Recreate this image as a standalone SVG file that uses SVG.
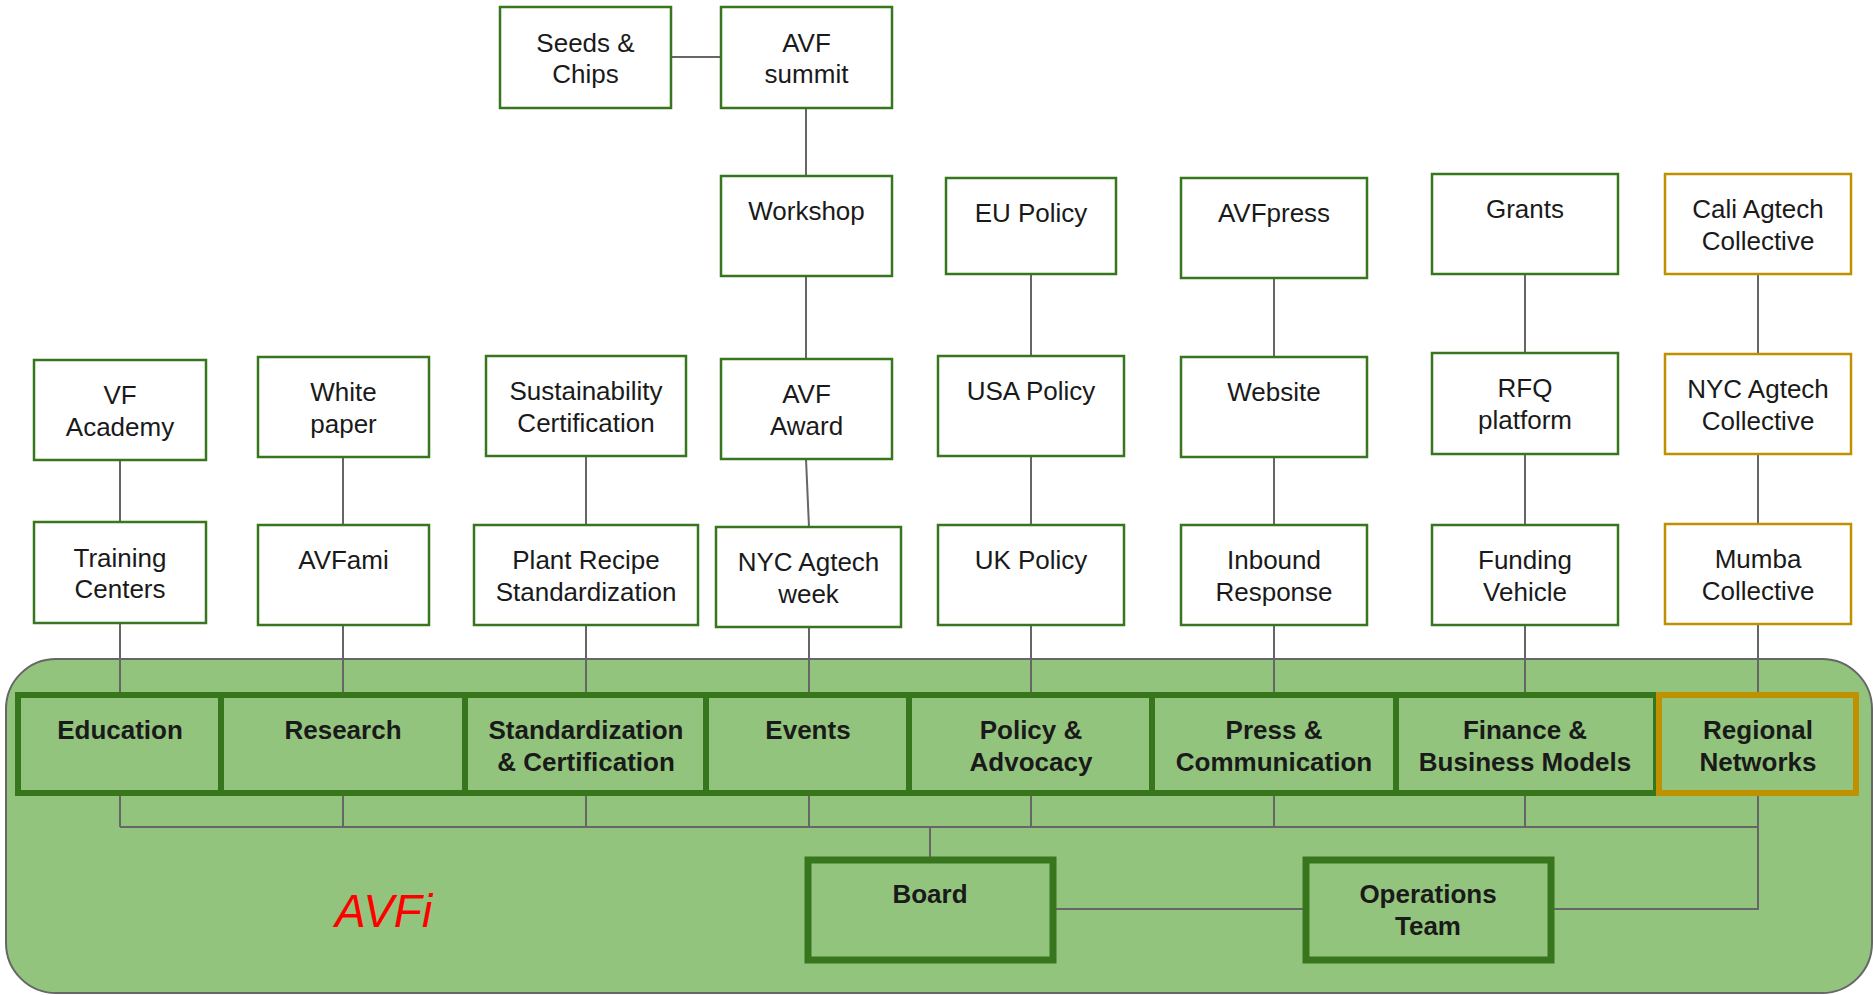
<svg xmlns="http://www.w3.org/2000/svg" width="1873" height="995" viewBox="0 0 1873 995">
<style>
.bg{fill:#ffffff}
.box{fill:#ffffff;stroke:#38761d;stroke-width:2.5}
.gold{fill:#ffffff;stroke:#bf9000;stroke-width:2.5}
.cat{fill:#93c47d;stroke:#38761d;stroke-width:6}
.catg{fill:#93c47d;stroke:#bf9000;stroke-width:6}
.big{fill:#93c47d;stroke:#38761d;stroke-width:7}
.t{font-family:"Liberation Sans",Arial,sans-serif;font-size:26px;fill:#1a1a1a;text-anchor:middle}
.b{font-family:"Liberation Sans",Arial,sans-serif;font-size:26px;font-weight:bold;fill:#1a1a1a;text-anchor:middle}
.c{fill:none;stroke:#666666;stroke-width:2}
</style>
<rect class="bg" x="0" y="0" width="1873" height="995"/>
<g id="container">
<rect x="6" y="659" width="1866" height="334" rx="50" ry="50" fill="#93c47d" stroke="#666666" stroke-width="2"/>
<text x="335" y="927" font-family="'Liberation Sans',Arial,sans-serif" font-style="italic" font-size="46" fill="#ff0000">AVFi</text>
</g>
<g id="connectors">
<line class="c" x1="671" y1="57" x2="721" y2="57"/>
<line class="c" x1="806" y1="108" x2="806" y2="176"/>
<line class="c" x1="806" y1="276" x2="806" y2="359"/>
<line class="c" x1="806" y1="459" x2="809" y2="527"/>
<line class="c" x1="809" y1="627" x2="809" y2="695"/>
<line class="c" x1="120" y1="460" x2="120" y2="522"/>
<line class="c" x1="120" y1="623" x2="120" y2="695"/>
<line class="c" x1="343" y1="457" x2="343" y2="525"/>
<line class="c" x1="343" y1="625" x2="343" y2="695"/>
<line class="c" x1="586" y1="456" x2="586" y2="525"/>
<line class="c" x1="586" y1="625" x2="586" y2="695"/>
<line class="c" x1="1031" y1="274" x2="1031" y2="356"/>
<line class="c" x1="1031" y1="456" x2="1031" y2="525"/>
<line class="c" x1="1031" y1="625" x2="1031" y2="695"/>
<line class="c" x1="1274" y1="278" x2="1274" y2="357"/>
<line class="c" x1="1274" y1="457" x2="1274" y2="525"/>
<line class="c" x1="1274" y1="625" x2="1274" y2="695"/>
<line class="c" x1="1525" y1="274" x2="1525" y2="353"/>
<line class="c" x1="1525" y1="454" x2="1525" y2="525"/>
<line class="c" x1="1525" y1="625" x2="1525" y2="695"/>
<line class="c" x1="1758" y1="274" x2="1758" y2="354"/>
<line class="c" x1="1758" y1="454" x2="1758" y2="524"/>
<line class="c" x1="1758" y1="624" x2="1758" y2="695"/>
<line class="c" x1="120" y1="793" x2="120" y2="827"/>
<line class="c" x1="343" y1="793" x2="343" y2="827"/>
<line class="c" x1="586" y1="793" x2="586" y2="827"/>
<line class="c" x1="809" y1="793" x2="809" y2="827"/>
<line class="c" x1="1031" y1="793" x2="1031" y2="827"/>
<line class="c" x1="1274" y1="793" x2="1274" y2="827"/>
<line class="c" x1="1525" y1="793" x2="1525" y2="827"/>
<polyline class="c" points="120,827 1758,827"/>
<line class="c" x1="930" y1="827" x2="930" y2="858"/>
<polyline class="c" points="1758,793 1758,909 1551,909"/>
<line class="c" x1="1053" y1="909" x2="1304" y2="909"/>
</g>
<g id="seeds-chips"><rect class="box" x="500" y="7" width="171" height="101"/><text class="t" x="585.5" y="52">Seeds &amp;</text><text class="t" x="585.5" y="83">Chips</text></g>
<g id="avf-summit"><rect class="box" x="721" y="7" width="171" height="101"/><text class="t" x="806.5" y="52">AVF</text><text class="t" x="806.5" y="83">summit</text></g>
<g id="workshop"><rect class="box" x="721" y="176" width="171" height="100"/><text class="t" x="806.5" y="220">Workshop</text></g>
<g id="avf-award"><rect class="box" x="721" y="359" width="171" height="100"/><text class="t" x="806.5" y="403">AVF</text><text class="t" x="806.5" y="435">Award</text></g>
<g id="nyc-agtech-week"><rect class="box" x="716" y="527" width="185" height="100"/><text class="t" x="808.5" y="571">NYC Agtech</text><text class="t" x="808.5" y="603">week</text></g>
<g id="vf-academy"><rect class="box" x="34" y="360" width="172" height="100"/><text class="t" x="120" y="404">VF</text><text class="t" x="120" y="436">Academy</text></g>
<g id="white-paper"><rect class="box" x="258" y="357" width="171" height="100"/><text class="t" x="343.5" y="401">White</text><text class="t" x="343.5" y="433">paper</text></g>
<g id="sustainability"><rect class="box" x="486" y="356" width="200" height="100"/><text class="t" x="586" y="400">Sustainability</text><text class="t" x="586" y="432">Certification</text></g>
<g id="training-centers"><rect class="box" x="34" y="522" width="172" height="101"/><text class="t" x="120" y="567">Training</text><text class="t" x="120" y="598">Centers</text></g>
<g id="avfami"><rect class="box" x="258" y="525" width="171" height="100"/><text class="t" x="343.5" y="569">AVFami</text></g>
<g id="plant-recipe"><rect class="box" x="474" y="525" width="224" height="100"/><text class="t" x="586" y="569">Plant Recipe</text><text class="t" x="586" y="601">Standardization</text></g>
<g id="eu-policy"><rect class="box" x="946" y="178" width="170" height="96"/><text class="t" x="1031" y="222">EU Policy</text></g>
<g id="usa-policy"><rect class="box" x="938" y="356" width="186" height="100"/><text class="t" x="1031" y="400">USA Policy</text></g>
<g id="uk-policy"><rect class="box" x="938" y="525" width="186" height="100"/><text class="t" x="1031" y="569">UK Policy</text></g>
<g id="avfpress"><rect class="box" x="1181" y="178" width="186" height="100"/><text class="t" x="1274" y="222">AVFpress</text></g>
<g id="website"><rect class="box" x="1181" y="357" width="186" height="100"/><text class="t" x="1274" y="401">Website</text></g>
<g id="inbound-response"><rect class="box" x="1181" y="525" width="186" height="100"/><text class="t" x="1274" y="569">Inbound</text><text class="t" x="1274" y="601">Response</text></g>
<g id="grants"><rect class="box" x="1432" y="174" width="186" height="100"/><text class="t" x="1525" y="218">Grants</text></g>
<g id="rfq-platform"><rect class="box" x="1432" y="353" width="186" height="101"/><text class="t" x="1525" y="397">RFQ</text><text class="t" x="1525" y="429">platform</text></g>
<g id="funding-vehicle"><rect class="box" x="1432" y="525" width="186" height="100"/><text class="t" x="1525" y="569">Funding</text><text class="t" x="1525" y="601">Vehicle</text></g>
<g id="cali-agtech"><rect class="gold" x="1665" y="174" width="186" height="100"/><text class="t" x="1758" y="218">Cali Agtech</text><text class="t" x="1758" y="250">Collective</text></g>
<g id="nyc-agtech-collective"><rect class="gold" x="1665" y="354" width="186" height="100"/><text class="t" x="1758" y="398">NYC Agtech</text><text class="t" x="1758" y="430">Collective</text></g>
<g id="mumba-collective"><rect class="gold" x="1665" y="524" width="186" height="100"/><text class="t" x="1758" y="568">Mumba</text><text class="t" x="1758" y="600">Collective</text></g>
<g id="education"><rect class="cat" x="18" y="695" width="203" height="98"/><text class="b" x="120" y="739">Education</text></g>
<g id="research"><rect class="cat" x="221" y="695" width="244" height="98"/><text class="b" x="343" y="739">Research</text></g>
<g id="standardization"><rect class="cat" x="465" y="695" width="241" height="98"/><text class="b" x="586" y="739">Standardization</text><text class="b" x="586" y="771">&amp; Certification</text></g>
<g id="events"><rect class="cat" x="706" y="695" width="203" height="98"/><text class="b" x="808" y="739">Events</text></g>
<g id="policy-advocacy"><rect class="cat" x="909" y="695" width="243" height="98"/><text class="b" x="1031" y="739">Policy &amp;</text><text class="b" x="1031" y="771">Advocacy</text></g>
<g id="press-communication"><rect class="cat" x="1152" y="695" width="244" height="98"/><text class="b" x="1274" y="739">Press &amp;</text><text class="b" x="1274" y="771">Communication</text></g>
<g id="finance-business"><rect class="cat" x="1396" y="695" width="260" height="98"/><text class="b" x="1525" y="739">Finance &amp;</text><text class="b" x="1525" y="771">Business Models</text></g>
<g id="regional-networks"><rect class="catg" x="1659" y="695" width="197" height="98"/><text class="b" x="1758" y="739">Regional</text><text class="b" x="1758" y="771">Networks</text></g>
<g id="board"><rect class="big" x="808" y="860" width="245" height="100"/><text class="b" x="930" y="903">Board</text></g>
<g id="operations-team"><rect class="big" x="1306" y="860" width="245" height="100"/><text class="b" x="1428" y="903">Operations</text><text class="b" x="1428" y="935">Team</text></g>
</svg>
